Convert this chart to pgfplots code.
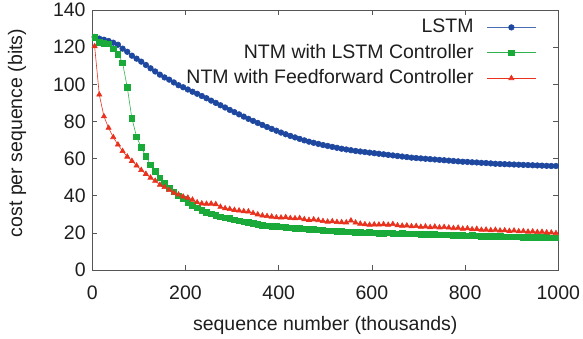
\documentclass[border=0pt]{standalone}
\usepackage{fontspec}
\setmainfont{Liberation Sans}
\usepackage{pgfplots}
\usepackage{pgfplotstable}
\pgfplotsset{compat=1.18}
\usetikzlibrary{calc}

\definecolor{lstmblue}{RGB}{30,72,160}
\definecolor{ntmgreen}{RGB}{26,170,58}
\definecolor{ntmred}{RGB}{232,50,30}
\definecolor{framegray}{RGB}{85,85,85}
\definecolor{textgray}{RGB}{30,30,30}

% cost per sequence, sampled every 10k sequences
\pgfplotstableread{
x   lstm   ntmlstm  ntmff
5   125.5  125.3    120.5
15  124.6  122.7    94.4
25  124.0  122.2    82.7
35  123.3  121.9    76.5
45  122.4  119.2    71.5
55  121.3  116.3    67.5
65  119.2  111.5    64.0
75  117.5  98.4     61.0
85  115.4  81.6     58.7
95  113.8  71.8     56.2
105 112.2  66.0     53.8
115 110.4  61.2     51.7
125 108.6  56.7     49.7
135 106.9  53.0     48.0
145 105.2  49.7     45.8
155 103.7  46.7     44.6
165 102.5  44.3     43.0
175 101.0  42.2     41.6
185 99.5   40.0     40.6
195 98.4   38.3     39.5
205 97.2   36.3     38.9
215 96.0   34.8     37.8
225 94.9   33.5     36.4
235 93.7   32.3     35.8
245 92.5   31.2     35.6
255 91.2   30.2     35.7
265 90.0   29.3     35.4
275 88.7   28.6     34.0
285 87.5   28.1     33.2
295 86.2   27.7     32.8
305 85.0   27.1     32.3
315 83.8   26.5     32.0
325 82.6   26.0     31.6
335 81.4   25.6     31.5
345 80.3   25.1     30.6
355 79.2   24.7     29.9
365 78.1   24.2     29.3
375 77.0   23.9     29.0
385 76.0   23.6     28.7
395 75.0   23.4     28.3
405 74.0   23.2     28.2
415 73.1   22.9     28.4
425 72.2   22.7     27.9
435 71.4   22.4     27.8
445 70.6   22.3     27.9
455 69.8   22.1     27.3
465 69.1   21.9     26.9
475 68.5   21.9     27.2
485 67.9   21.6     26.8
495 67.3   21.4     26.3
505 66.8   21.2     26.0
515 66.3   21.1     26.2
525 65.8   20.9     25.8
535 65.3   20.8     25.7
545 64.9   20.6     25.6
555 64.5   20.5     26.6
565 64.1   20.4     25.5
575 63.8   20.2     24.9
585 63.5   20.1     24.6
595 63.2   20.3     24.3
605 62.9   20.0     24.5
615 62.6   19.9     24.4
625 62.3   19.8     24.6
635 62.0   20.0     24.3
645 61.7   19.7     24.7
655 61.4   19.6     24.0
665 61.1   19.7     23.8
675 60.8   19.5     23.9
685 60.5   19.4     23.5
695 60.3   19.5     23.6
705 60.1   19.3     23.2
715 59.9   19.2     23.4
725 59.7   19.3     23.0
735 59.5   19.1     23.3
745 59.3   19.0     22.9
755 59.1   18.9     23.1
765 58.9   19.0     22.8
775 58.7   18.8     22.5
785 58.5   18.7     22.7
795 58.3   18.6     22.2
805 58.2   18.5     22.4
815 58.0   18.6     21.9
825 57.9   18.4     22.1
835 57.7   18.3     21.6
845 57.6   18.3     21.7
855 57.4   18.2     21.4
865 57.2   18.1     21.6
875 57.1   18.0     21.2
885 57.0   17.9     21.3
895 56.9   17.9     21.0
905 56.8   17.8     21.2
915 56.7   17.8     20.8
925 56.6   17.7     20.9
935 56.5   17.7     20.6
945 56.4   17.6     20.7
955 56.3   17.6     20.4
965 56.2   17.5     20.5
975 56.1   17.5     20.2
985 56.0   17.4     20.1
995 56.0   17.4     19.8
}\costdata

\begin{document}
\fontsize{19.5}{23.5}\selectfont
\color{textgray}
\begin{tikzpicture}
\begin{axis}[
    scale only axis,
    width=466pt,
    height=260pt,
    xmin=0, xmax=1000,
    ymin=0, ymax=140,
    xtick={0,200,...,1000},
    ytick={0,20,...,140},
    tick align=inside,
    major tick length=5pt,
    axis line style={framegray, line width=0.8pt},
    tick style={framegray, line width=0.6pt},
    /pgf/number format/assume math mode=true,
    /pgf/number format/1000 sep={},
    xticklabel style={yshift=-9pt},
    xlabel={sequence number (thousands)},
    ylabel={cost per sequence (bits)},
    xlabel style={at={(axis description cs:0.5,-0.215)}, anchor=center},
    ylabel style={at={(axis description cs:-0.1616,0.527)}, anchor=center},
    legend plot pos=right,
    legend cell align=right,
    legend style={draw=none, fill=none, at={(axis cs:953,135.2)}, anchor=north east,
        inner sep=0pt, column sep=13pt, row sep=8.5pt, nodes={inner sep=0pt}},
    legend image code/.code={\draw[mark repeat=2,mark phase=2,#1] plot coordinates {(0pt,0pt) (24.5pt,0pt) (49pt,0pt)};},
]
\addplot[color=lstmblue!80, line width=0.6pt, mark=*, mark size=2.8pt,
    mark options={draw=lstmblue, fill=lstmblue}] table[x=x, y=lstm] {\costdata};
\addlegendentry{LSTM}
\addplot[color=ntmgreen!90, line width=0.6pt, mark=square*, mark size=2.8pt,
    mark options={draw=ntmgreen, fill=ntmgreen}] table[x=x, y=ntmlstm] {\costdata};
\addlegendentry{NTM with LSTM Controller}
\addplot[color=ntmred, line width=0.6pt, mark=triangle*, mark size=3pt,
    mark options={draw=ntmred, fill=ntmred}] table[x=x, y=ntmff] {\costdata};
\addlegendentry{NTM with Feedforward Controller}
\end{axis}
\pgfresetboundingbox
\path ($(current axis.south west)+(-92.3pt,-68pt)$) rectangle ($(current axis.north east)+(24.7pt,10pt)$);
\end{tikzpicture}
\end{document}
